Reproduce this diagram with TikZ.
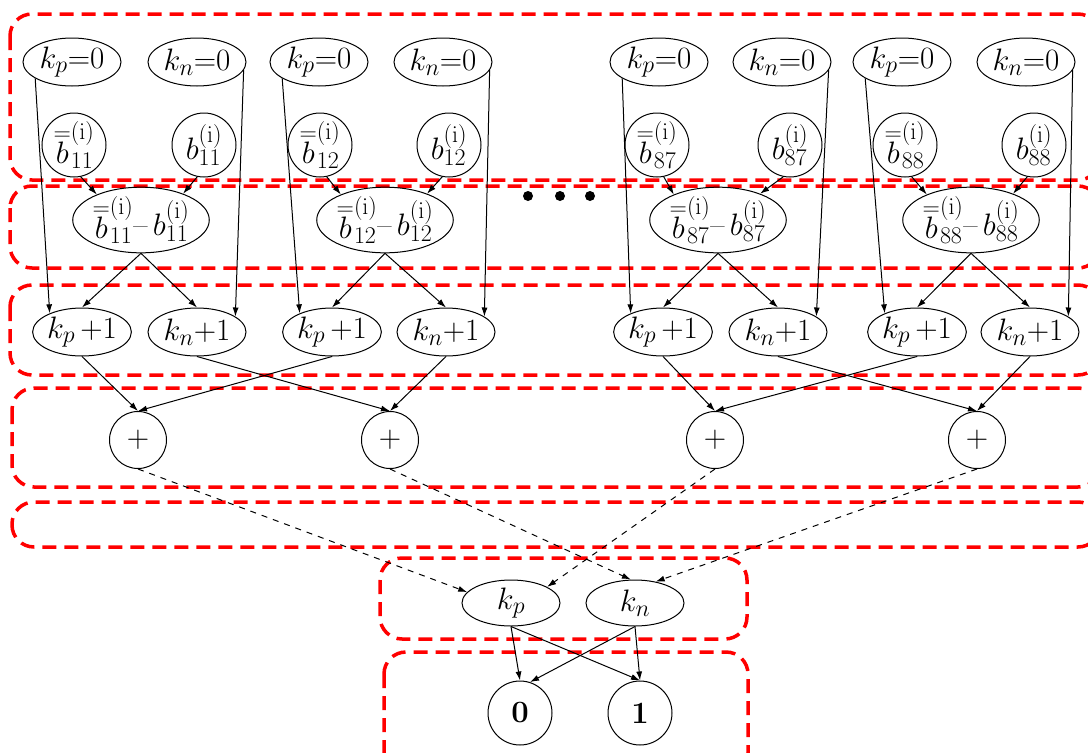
\RequirePackage{fix-cm}
\documentclass[tikz,border=0pt]{standalone}
\usetikzlibrary{arrows.meta,shapes.geometric}
\DeclareMathSizes{31}{31}{24}{18}
\newcommand{\bbar}{\stackrel{=}{b}}
\begin{document}
\begin{tikzpicture}[x=1pt,y=-1pt,
  lbl/.style={font=\fontsize{31}{34}\selectfont},
  ell/.style={lbl,draw,ellipse,line width=1pt,minimum width=98pt,minimum height=48pt,inner sep=0pt},
  dell/.style={lbl,draw,ellipse,line width=1pt,minimum width=126pt,minimum height=64pt,inner sep=0pt},
  circ/.style={lbl,draw,circle,line width=1pt,minimum size=64pt,inner sep=0pt},
  pcirc/.style={lbl,draw,circle,line width=1pt,minimum size=57pt,inner sep=0pt},
  ocirc/.style={lbl,draw,circle,line width=1pt,minimum size=64pt,inner sep=0pt},
  arr/.style={-{Latex[length=9pt,width=6pt]},line width=1pt},
  darr/.style={arr,dash pattern=on 6pt off 6pt},
  redbox/.style={draw=red,line width=3.5pt,dash pattern=on 14pt off 8pt,rounded corners=22pt}]
\useasboundingbox (0,0) rectangle (1088,753);
\clip (0,0) rectangle (1088,753);
% red dashed boxes
\draw[redbox] (10,14) rectangle (1100,180);
\draw[redbox] (10,186) rectangle (1100,268);
\draw[redbox] (10,285) rectangle (1100,375);
\draw[redbox] (12,388) rectangle (1100,487);
\draw[redbox] (12,502) rectangle (1100,547);
\draw[redbox] (380,558) rectangle (747,639);
\draw[redbox] (384,652) rectangle (748,775);
% groups
\foreach \g/\kp/\kn/\bb/\b/\d/\pp/\np/\s in {1/72/197/74/204/141/82/197/11, 2/319/443/320/449/385/332/446/12, 3/659/782/657/790/718/663/778/87, 4/902/1026/905/1034/971/917/1030/88}{
  \node[ell] (kp0\g) at (\kp,62) {$k_p$=0};
  \node[ell] (kn0\g) at (\kn,62) {$k_n$=0};
  \node[circ] (bb\g) at (\bb,145) {$\bbar^{(\mathrm{i})}_{\s}$};
  \node[circ] (b\g) at (\b,145) {$b^{(\mathrm{i})}_{\s}$};
  \node[dell] (d\g) at (\d,220) {$\bbar^{(\mathrm{i})}_{\s}$--\,$b^{(\mathrm{i})}_{\s}$};
  \node[ell] (kpp\g) at (\pp,332) {$k_p\,$+1};
  \node[ell] (knp\g) at (\np,332) {$k_n$+1};
  \draw[arr] (kp0\g.204) -- (kpp\g.150);
  \draw[arr] (kn0\g.350) -- (knp\g.22);
  \draw[arr] (bb\g.282) -- (d\g.150);
  \draw[arr] (b\g.258) -- (d\g.32);
  \draw[arr] (d\g.south) -- (kpp\g.north);
  \draw[arr] (d\g.south) -- (knp\g.north);
}
% plus nodes
\node[pcirc] (s1) at (138,440) {$+$};
\node[pcirc] (s2) at (390,440) {$+$};
\node[pcirc] (s3) at (715,440) {$+$};
\node[pcirc] (s4) at (977,440) {$+$};
\node[ell,minimum height=46pt] (kp) at (511,603) {$k_p$};
\node[ell,minimum height=46pt] (kn) at (635,603) {$k_n$};
\node[ocirc] (z0) at (520,713) {\textbf{0}};
\node[ocirc] (z1) at (640,713) {\textbf{1}};
% dots
\fill (528,196) circle (5);
\fill (560,196) circle (5);
\fill (590,196) circle (5);
% edges to plus
\draw[arr] (kpp1.south) -- (s1.north);
\draw[arr] (kpp2.south) -- (s1.north);
\draw[arr] (knp1.south) -- (s2.north);
\draw[arr] (knp2.south) -- (s2.north);
\draw[arr] (kpp3.south) -- (s3.north);
\draw[arr] (kpp4.south) -- (s3.north);
\draw[arr] (knp3.south) -- (s4.north);
\draw[arr] (knp4.south) -- (s4.north);
% dashed edges
\draw[darr] (s1.south) -- (kp.166);
\draw[darr] (s3.south) -- (kp.24);
\draw[darr] (s2.south) -- (kn.100);
\draw[darr] (s4.south) -- (kn.46);
% final
\draw[arr] (kp.south) -- (z0.north);
\draw[arr] (kp.south) -- (z1.north);
\draw[arr] (kn.south) -- (z0.72);
\draw[arr] (kn.south) -- (z1.north);
\end{tikzpicture}
\end{document}
